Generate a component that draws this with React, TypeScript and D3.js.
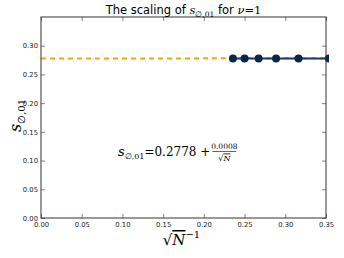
import React, { useEffect, useRef } from "react";
import * as d3 from "d3";

// system sizes N, x = 1/sqrt(N)
const sizes = [18, 16, 14, 12, 10, 8];
const sValues = [0.2779, 0.2779, 0.2779, 0.2779, 0.2778, 0.2779];
const fitA = 0.2778;
const fitB = 0.0008;
const xTicks = [0, 0.05, 0.1, 0.15, 0.2, 0.25, 0.3, 0.35];
const yTicks = [0, 0.05, 0.1, 0.15, 0.2, 0.25, 0.3];

const W = 344;
const H = 258;
const margin = { top: 17, left: 41, right: 18, bottom: 40 };

const App = () => {
  const svgRef = useRef<SVGSVGElement>(null);

  useEffect(() => {
    const svg = d3.select(svgRef.current);
    svg.selectAll("*").remove();

    const innerW = W - margin.left - margin.right;
    const innerH = H - margin.top - margin.bottom;

    const x = d3.scaleLinear().domain([0, 0.35]).range([0, innerW]);
    const y = d3.scaleLinear().domain([0, 0.35]).range([innerH, 0]);

    const g = svg
      .append("g")
      .attr("transform", `translate(${margin.left},${margin.top})`);

    svg
      .append("defs")
      .append("clipPath")
      .attr("id", "plotclip")
      .append("rect")
      .attr("width", innerW + 3)
      .attr("height", innerH);

    const plot = g.append("g").attr("clip-path", "url(#plotclip)");

    // fitted line
    const fitX = [0, 0.35];
    plot
      .append("path")
      .attr(
        "d",
        d3.line<number>()
          .x((d) => x(d))
          .y((d) => y(fitA + fitB * d))(fitX)
      )
      .attr("fill", "none")
      .attr("stroke", "#ffa500")
      .attr("stroke-width", 2)
      .attr("stroke-dasharray", "5,4");

    const pts = sizes.map((n, i) => ({ x: 1 / Math.sqrt(n), y: sValues[i] }));

    plot
      .append("path")
      .datum(pts)
      .attr(
        "d",
        d3.line<{ x: number; y: number }>()
          .x((d) => x(d.x))
          .y((d) => y(d.y))
      )
      .attr("fill", "none")
      .attr("stroke", "#1a3a60")
      .attr("stroke-width", 2);

    plot
      .selectAll("circle")
      .data(pts)
      .enter()
      .append("circle")
      .attr("cx", (d) => x(d.x))
      .attr("cy", (d) => y(d.y))
      .attr("r", 4)
      .attr("fill", "#0b2545");

    // axes, matplotlib classic style: ticks inside on all sides
    const fmt = d3.format(".2f");
    const bottom = g
      .append("g")
      .attr("transform", `translate(0,${innerH})`)
      .call(d3.axisBottom(x).tickValues(xTicks).tickFormat((d) => fmt(d as number)).tickSizeInner(-4).tickSizeOuter(0).tickPadding(4));
    const left = g
      .append("g")
      .call(d3.axisLeft(y).tickValues(yTicks).tickFormat((d) => fmt(d as number)).tickSizeInner(-4).tickSizeOuter(0).tickPadding(3));
    const top = g
      .append("g")
      .call(d3.axisTop(x).tickValues(xTicks).tickFormat(() => "").tickSizeInner(-4).tickSizeOuter(0));
    const right = g
      .append("g")
      .attr("transform", `translate(${innerW},0)`)
      .call(d3.axisRight(y).tickValues(yTicks).tickFormat(() => "").tickSizeInner(-4).tickSizeOuter(0));

    [bottom, left, top, right].forEach((a) => {
      a.select(".domain").remove();
      a.selectAll("line").attr("stroke", "#333").attr("stroke-width", 0.6);
      a.selectAll("text")
        .attr("fill", "#222")
        .style("font-family", "DejaVu Sans")
        .style("font-size", "6.8px");
    });

    g.append("rect")
      .attr("width", innerW)
      .attr("height", innerH)
      .attr("fill", "none")
      .attr("stroke", "#333")
      .attr("stroke-width", 1);

    // title
    const title = svg
      .append("text")
      .attr("x", margin.left + innerW / 2)
      .attr("y", 14)
      .attr("text-anchor", "middle")
      .style("font-family", "DejaVu Sans")
      .style("font-size", "11.5px")
      .attr("fill", "#000");
    title.append("tspan").text("The scaling of ");
    title.append("tspan").style("font-family", "DejaVu Serif").style("font-style", "italic").text("s");
    title.append("tspan").style("font-family", "DejaVu Serif").style("font-size", "7.5px").attr("dy", 3).text("∅,01");
    title.append("tspan").attr("dy", -3).text(" for ");
    title.append("tspan").style("font-family", "DejaVu Serif").style("font-style", "italic").text("ν");
    title.append("tspan").style("font-family", "DejaVu Serif").text("=1");

    // y label
    const ylab = svg
      .append("text")
      .attr("transform", `translate(21,${margin.top + innerH / 2 - 2}) rotate(-90)`)
      .attr("text-anchor", "middle")
      .style("font-family", "DejaVu Serif")
      .attr("fill", "#000");
    ylab.append("tspan").style("font-style", "italic").style("font-size", "16px").text("s");
    ylab.append("tspan").style("font-size", "10px").attr("dy", 4).text("∅,01");

    // x label
    const xlab = svg
      .append("text")
      .attr("x", margin.left + innerW / 2 - 2)
      .attr("y", 245)
      .attr("text-anchor", "middle")
      .style("font-family", "DejaVu Serif")
      .attr("fill", "#000");
    xlab.append("tspan").style("font-size", "15px").text("√");
    xlab.append("tspan").style("font-size", "15px").style("font-style", "italic").attr("text-decoration", "overline").text("N");
    xlab.append("tspan").style("font-size", "10px").attr("dy", -7).text("−1");

    // fit formula
    const fx = 118;
    const fy = 156;
    const formula = svg
      .append("text")
      .attr("x", fx)
      .attr("y", fy)
      .style("font-family", "DejaVu Serif")
      .attr("fill", "#000");
    formula.append("tspan").style("font-style", "italic").style("font-size", "13px").text("s");
    formula.append("tspan").style("font-size", "8px").attr("dy", 3).text("∅,01");
    formula.append("tspan").style("font-size", "12px").attr("dy", -3).text(`=${fitA.toFixed(4)} +`);
    const fEnd = (formula.node() as SVGTextElement).getBBox();
    const fracX = fEnd.x + fEnd.width + 14;
    svg.append("text")
      .attr("x", fracX)
      .attr("y", fy - 7)
      .attr("text-anchor", "middle")
      .style("font-family", "DejaVu Serif")
      .style("font-size", "7.5px")
      .text(fitB.toFixed(4));
    svg.append("line")
      .attr("x1", fracX - 12)
      .attr("x2", fracX + 12)
      .attr("y1", fy - 4.5)
      .attr("y2", fy - 4.5)
      .attr("stroke", "#000")
      .attr("stroke-width", 0.6);
    const den = svg.append("text")
      .attr("x", fracX)
      .attr("y", fy + 4.5)
      .attr("text-anchor", "middle")
      .style("font-family", "DejaVu Serif")
      .style("font-size", "8px");
    den.append("tspan").text("√");
    den.append("tspan").style("font-style", "italic").attr("text-decoration", "overline").text("N");
  }, []);

  return (
    <div style={{ position: "absolute", left: 0, top: 0 }}>
      <svg ref={svgRef} width={W} height={H} style={{ display: "block", background: "#fff" }} />
    </div>
  );
};

export default App;
